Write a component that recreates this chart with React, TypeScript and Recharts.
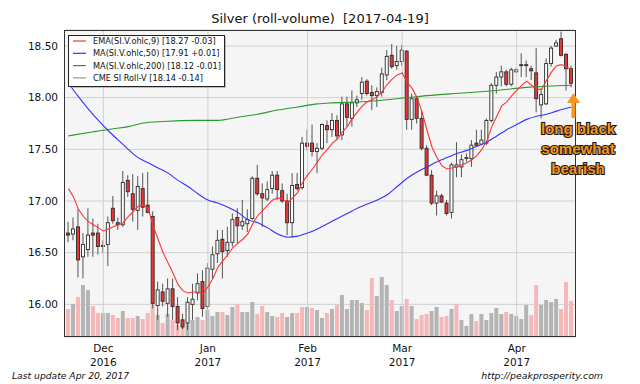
import React from 'react';
import { ComposedChart, Bar, Line, XAxis, YAxis, CartesianGrid, ReferenceLine } from 'recharts';

// ---- data ----
const opens = [
  16.69, 16.68, 16.75, 16.46, 16.53, 16.69, 16.69, 16.57, 16.58, 16.93,
  16.79, 16.77, 17.2, 17.07, 16.91, 17.12, 16.96, 16.85, 15.99, 16.12,
  16.01, 16.15, 15.98, 15.85, 15.82, 16.0, 16.11, 16.22, 15.98, 16.34,
  16.49, 16.63, 16.52, 16.6, 16.84, 16.76, 16.78, 16.83, 17.22, 17.07,
  17.02, 17.12, 17.25, 17.1, 17.0, 16.79, 17.16, 17.13, 17.56, 17.56,
  17.48, 17.51, 17.73, 17.69, 17.78, 17.64, 17.94, 17.8, 17.95, 18.04,
  18.16, 18.05, 18.02, 18.05, 18.22, 18.41, 18.31, 18.35, 18.45, 17.79,
  17.99, 17.8, 17.51, 17.25, 16.98, 17.05, 16.98, 16.89, 17.33, 17.33,
  17.42, 17.41, 17.56, 17.55, 17.56, 17.78, 18.12, 18.2, 18.25, 18.13,
  18.25, 18.31, 18.31, 18.28, 18.24, 17.93, 17.94, 18.33, 18.5, 18.57,
  18.42, 18.28,
];
const highs = [
  16.8, 16.84, 16.92, 16.69, 16.93, 16.83, 16.78, 16.62, 16.85, 17.05,
  16.84, 17.29, 17.25, 17.26, 17.24, 17.27, 17.28, 16.9, 16.22, 16.2,
  16.25, 16.25, 16.07, 15.91, 16.07, 16.2, 16.3, 16.33, 16.4, 16.56,
  16.72, 16.72, 16.75, 16.88, 16.93, 17.01, 16.92, 17.24, 17.35, 17.17,
  17.19, 17.29, 17.29, 17.17, 17.07, 17.27, 17.27, 17.62, 17.69, 17.74,
  17.56, 17.75, 17.78, 17.85, 17.83, 18.01, 18.01, 18.07, 18.02, 18.2,
  18.18, 18.12, 18.1, 18.29, 18.46, 18.52, 18.5, 18.51, 18.46, 18.04,
  18.01, 17.88, 17.54, 17.3, 17.1, 17.07, 17.01, 17.37, 17.57, 17.45,
  17.46, 17.59, 17.69, 17.69, 17.8, 18.14, 18.25, 18.31, 18.27, 18.29,
  18.29, 18.43, 18.36, 18.31, 18.48, 18.09, 18.38, 18.5, 18.56, 18.64,
  18.43, 18.31,
];
const lows = [
  16.6, 16.62, 16.26, 16.25, 16.46, 16.46, 16.48, 16.5, 16.37, 16.78,
  16.72, 16.75, 17.04, 16.8, 16.72, 16.85, 16.88, 15.96, 15.85, 15.98,
  15.88, 15.85, 15.75, 15.76, 15.75, 15.85, 16.04, 15.88, 15.95, 16.25,
  16.4, 16.25, 16.46, 16.56, 16.59, 16.72, 16.7, 16.82, 17.05, 16.75,
  17.0, 17.07, 17.01, 16.98, 16.67, 16.65, 17.1, 17.11, 17.49, 17.43,
  17.27, 17.49, 17.56, 17.62, 17.6, 17.59, 17.72, 17.72, 17.91, 17.98,
  18.02, 17.88, 17.91, 18.01, 18.17, 18.28, 18.27, 18.31, 17.69, 17.69,
  17.75, 17.49, 17.24, 16.96, 16.86, 16.98, 16.86, 16.83, 17.23, 17.23,
  17.38, 17.33, 17.53, 17.54, 17.54, 17.76, 18.04, 18.11, 18.11, 18.11,
  18.24, 18.2, 18.2, 18.17, 17.86, 17.8, 17.93, 18.3, 18.49, 18.4,
  18.07, 18.1,
];
const closes = [
  16.67, 16.73, 16.43, 16.58, 16.67, 16.67, 16.56, 16.56, 16.79, 16.81,
  16.77, 17.18, 17.09, 16.92, 17.14, 16.94, 16.89, 16.01, 16.14, 16.03,
  16.15, 15.98, 15.82, 15.78, 16.02, 16.05, 16.2, 15.96, 16.35, 16.48,
  16.62, 16.51, 16.6, 16.82, 16.76, 16.8, 16.82, 17.22, 17.07, 17.03,
  17.11, 17.25, 17.11, 17.0, 16.79, 17.15, 17.12, 17.56, 17.53, 17.48,
  17.51, 17.74, 17.69, 17.78, 17.63, 17.94, 17.81, 17.95, 17.98, 18.15,
  18.04, 18.02, 18.06, 18.23, 18.4, 18.3, 18.35, 18.46, 17.79, 17.99,
  17.8, 17.51, 17.25, 16.98, 17.05, 16.99, 16.88, 17.35, 17.35, 17.4,
  17.42, 17.54, 17.54, 17.59, 17.78, 18.12, 18.2, 18.25, 18.13, 18.27,
  18.27, 18.32, 18.32, 18.26, 17.99, 18.03, 18.33, 18.48, 18.53, 18.41,
  18.28, 18.14,
];
// volume, thousands of contracts
const volumes = [
  56, 66, 80, 104, 94, 62, 48, 48, 48, 44,
  38, 52, 38, 38, 42, 36, 48, 68, 44, 28,
  46, 34, 24, 18, 28, 34, 40, 34, 54, 42,
  50, 50, 44, 60, 66, 50, 50, 70, 46, 62,
  50, 42, 40, 48, 40, 48, 48, 60, 60, 58,
  54, 38, 48, 56, 64, 84, 56, 74, 74, 68,
  54, 118, 82, 120, 104, 74, 52, 62, 76, 62,
  36, 44, 46, 52, 60, 40, 42, 56, 66, 34,
  22, 46, 32, 46, 34, 48, 58, 46, 50, 46,
  42, 36, 64, 44, 104, 64, 74, 70, 76, 56,
  110, 72,
];
// 1 = up-volume bar (grey), 0 = down-volume bar (pink)
const volumeUp = [
  0, 1, 0, 1, 1, 0, 0, 1, 1, 0,
  0, 1, 0, 0, 1, 0, 0, 0, 1, 0,
  1, 0, 0, 0, 1, 1, 1, 0, 1, 1,
  1, 0, 1, 1, 0, 1, 1, 1, 0, 0,
  1, 1, 0, 0, 1, 1, 0, 0, 1, 0,
  1, 1, 0, 1, 0, 1, 1, 1, 1, 1,
  0, 0, 1, 1, 1, 0, 1, 1, 0, 1,
  0, 0, 0, 1, 1, 0, 0, 1, 0, 1,
  1, 1, 0, 1, 1, 1, 1, 1, 0, 1,
  1, 1, 1, 0, 0, 1, 1, 1, 1, 0,
  0, 0,
];
const ema9 = [
  17.12, 17.04, 16.92, 16.85, 16.8, 16.77, 16.74, 16.71, 16.73, 16.75,
  16.77, 16.79, 16.85, 16.9, 16.95, 16.96, 16.93, 16.76, 16.63, 16.5,
  16.4, 16.3, 16.19, 16.13, 16.11, 16.12, 16.12, 16.1, 16.17, 16.25,
  16.36, 16.42, 16.48, 16.55, 16.59, 16.63, 16.68, 16.78, 16.86, 16.91,
  16.96, 17.01, 17.03, 17.02, 16.98, 17.03, 17.08, 17.18, 17.25, 17.31,
  17.38, 17.45, 17.5, 17.56, 17.6, 17.67, 17.72, 17.8, 17.86, 17.92,
  17.96, 17.98, 18.01, 18.06, 18.13, 18.18, 18.22, 18.24, 18.15, 18.09,
  18.0, 17.86, 17.68, 17.52, 17.42, 17.34, 17.31, 17.32, 17.33, 17.35,
  17.37, 17.4, 17.44, 17.5, 17.58, 17.72, 17.82, 17.92, 17.96, 18.02,
  18.07, 18.12, 18.16, 18.12, 18.08, 18.08, 18.17, 18.25, 18.31, 18.32,
  18.3, 18.27,
];
// [bar index, value] readings of the moving averages
const ma50Points: [number, number][] = [
  [0, 18.14], [2, 18.01], [4, 17.89], [6, 17.78], [8, 17.68], [10, 17.59], [12, 17.5],
  [14, 17.42], [16, 17.37], [18, 17.32], [20, 17.27], [22, 17.2], [24, 17.14], [26, 17.07],
  [28, 17.01], [30, 16.98], [32, 16.94], [34, 16.89], [36, 16.82], [38, 16.79], [40, 16.74],
  [42, 16.68], [44, 16.65], [46, 16.66], [48, 16.69], [50, 16.73], [52, 16.78], [54, 16.83],
  [56, 16.88], [58, 16.93], [60, 16.97], [62, 17.01], [64, 17.06], [66, 17.14], [68, 17.22],
  [70, 17.28], [72, 17.33], [74, 17.38], [76, 17.42], [78, 17.46], [80, 17.49], [82, 17.53],
  [84, 17.57], [86, 17.63], [88, 17.69], [90, 17.74], [92, 17.79], [94, 17.82], [96, 17.84],
  [98, 17.87], [101, 17.91],
];
const ma200Points: [number, number][] = [
  [0, 17.63], [5, 17.67], [9, 17.7], [12, 17.72], [15, 17.755], [19, 17.77], [26, 17.78],
  [30, 17.78], [34, 17.81], [38, 17.84], [42, 17.88], [46, 17.91], [50, 17.94], [53, 17.95],
  [59, 17.96], [66, 17.99], [72, 18.02], [79, 18.045], [86, 18.07], [92, 18.1], [101, 18.12],
];
const monthTickIdx = [7, 28, 48, 67, 90];
const monthTickLabels = ['Dec', 'Jan', 'Feb', 'Mar', 'Apr'];
const monthTickYears = ['2016', '2017', '2017', '2017', '2017'];
const priceTicks = [16, 16.5, 17, 17.5, 18, 18.5];
const legendLabels = [
  'EMA(SI.V.ohlc,9) [18.27 -0.03]',
  'MA(SI.V.ohlc,50) [17.91 +0.01]',
  'MA(SI.V.ohlc,200) [18.12 -0.01]',
  'CME SI Roll-V [18.14 -0.14]',
];
const legendColors = ['#ff3333', '#3333ff', '#2a9a2a', '#999999'];
const annotationLines = ['long black', 'somewhat', 'bearish'];

// ---- table for the chart ----
type Row = {
  i: number; o: number; h: number; l: number; c: number;
  vol: number; up: number; ema: number; ma50?: number; ma200?: number;
};
const rows: Row[] = opens.map((o, i) => ({
  i, o, h: highs[i], l: lows[i], c: closes[i], vol: volumes[i], up: volumeUp[i], ema: ema9[i],
}));
ma50Points.forEach(([i, v]) => { rows[i].ma50 = v; });
ma200Points.forEach(([i, v]) => { rows[i].ma200 = v; });

const FONT = "'DejaVu Sans', 'Liberation Sans', sans-serif";

const Candle = (props: any) => {
  const { x, y, width, height, payload } = props;
  if (!payload || height == null || isNaN(y)) return <g />;
  const top = Math.min(y, y + height);
  const hh = Math.abs(height);
  const span = payload.h - payload.l;
  const yOf = (v: number) => top + ((payload.h - v) / span) * hh;
  const cx = x + width / 2;
  const yo = yOf(payload.o);
  const yc = yOf(payload.c);
  const bTop = Math.min(yo, yc);
  const bH = Math.max(Math.abs(yo - yc), 0.8);
  const down = payload.c < payload.o;
  return (
    <g>
      <line x1={cx} x2={cx} y1={top} y2={top + hh} stroke="#555" strokeWidth={1} />
      <rect x={x + 0.5} y={bTop} width={width - 1} height={bH}
        fill={down ? '#ee3535' : '#ffffff'} stroke="#2a2a2a" strokeWidth={0.9} />
    </g>
  );
};

const VolBar = (props: any) => {
  const { x, y, width, height, payload } = props;
  if (!payload || height == null || isNaN(y)) return <g />;
  return <rect x={x} y={Math.min(y, y + height)} width={width} height={Math.abs(height)}
    fill={payload.up ? '#b4b4b4' : '#f5b7b7'} />;
};

const MonthTick = (props: any) => {
  const { x, y, payload } = props;
  const k = monthTickIdx.indexOf(payload.value);
  if (k < 0) return <g />;
  return (
    <g>
      <text x={x} y={y + 15} textAnchor="middle" fontSize={10.5} fontFamily={FONT} fill="#111">{monthTickLabels[k]}</text>
      <text x={x} y={y + 29} textAnchor="middle" fontSize={10.5} fontFamily={FONT} fill="#111">{monthTickYears[k]}</text>
    </g>
  );
};

export default function App() {
  return (
    <div style={{ position: 'absolute', left: 0, top: 0, width: 640, height: 384, background: '#fff' }}>
      <ComposedChart width={640} height={384} data={rows}
        margin={{ top: 30, right: 64, bottom: 7, left: 4 }}>
        <CartesianGrid vertical={false} stroke="#cfcfcf" fill="#f5f5f5" />
        <XAxis dataKey="i" type="category" interval={0} tick={(p: any) => <MonthTick {...p} />}
          tickLine={false} axisLine={false} height={40} tickSize={0} tickMargin={0}
          padding={{ left: 2, right: 2 }} />
        <XAxis xAxisId="vol" dataKey="i" type="category" hide padding={{ left: 2, right: 2 }} />
        <YAxis type="number" domain={[15.684, 18.655]} ticks={priceTicks} allowDataOverflow
          tickFormatter={(v: number) => v.toFixed(2)} width={60} axisLine={false} tickLine={false}
          tickSize={4} tickMargin={2}
          tick={{ fontSize: 10.5, fontFamily: FONT, fill: '#111' }} />
        <YAxis yAxisId="vol" hide domain={[0, 614]} />
        {monthTickIdx.map((m) => (
          <ReferenceLine key={m} x={m} stroke="#cfcfcf" strokeWidth={1} />
        ))}
        <Bar xAxisId="vol" yAxisId="vol" dataKey="vol" barSize={4} shape={(p: any) => <VolBar {...p} />}
          isAnimationActive={false} />
        <Bar dataKey={(d: Row) => [d.l, d.h]} barSize={4} shape={(p: any) => <Candle {...p} />}
          isAnimationActive={false} />
        <Line dataKey="ma200" stroke="#2a9a2a" strokeWidth={1.1} dot={false} connectNulls type="monotone"
          isAnimationActive={false} />
        <Line dataKey="ma50" stroke="#3333ff" strokeWidth={1.1} dot={false} connectNulls type="monotone"
          isAnimationActive={false} />
        <Line dataKey="ema" stroke="#ff3333" strokeWidth={1.1} dot={false} type="linear"
          isAnimationActive={false} />
      </ComposedChart>
      <svg width={640} height={384} style={{ position: 'absolute', left: 0, top: 0, pointerEvents: 'none' }}>
        <text x={320} y={23} textAnchor="middle" fontSize={13} fontFamily={FONT} fill="#111">
          {'Silver (roll-volume)\u00a0\u00a0[2017-04-19]'}
        </text>
        <rect x={64.5} y={30.5} width={511} height={306} fill="none" stroke="#333" strokeWidth={1} />
        <rect x={70} y={37} width={156} height={51} fill="#9a9a9a" opacity={0.6} />
        <rect x={68.5} y={35.5} width={156} height={51} fill="#ffffff" stroke="#222" strokeWidth={1} />
        {legendLabels.map((t, k) => (
          <g key={t}>
            <line x1={73} x2={86} y1={41 + k * 12.3} y2={41 + k * 12.3} stroke={legendColors[k]} strokeWidth={1.2} />
            <text x={93} y={44 + k * 12.3} fontSize={8.2} fontFamily={FONT} fill="#111">{t}</text>
          </g>
        ))}
        <polygon points="573.5,93 567,103 580,103" fill="#f5961e" />
        <rect x={571.5} y={102} width={4} height={16} fill="#f5961e" />
        {annotationLines.map((t, k) => (
          <text key={t} x={578} y={134 + k * 20} textAnchor="middle" fontSize={15} fontWeight="bold"
            fontFamily="'Liberation Sans', Arial, sans-serif" fill="#f7941d" stroke="#1a1a1a"
            strokeWidth={2.2} style={{ paintOrder: 'stroke' }}>{t}</text>
        ))}
        <text x={12} y={379} fontSize={9.2} fontStyle="italic" fontFamily={FONT} fill="#111">Last update Apr 20, 2017</text>
        <text x={603} y={379} textAnchor="end" fontSize={9.4} fontStyle="italic" fontFamily={FONT} fill="#111">http://peakprosperity.com</text>
      </svg>
    </div>
  );
}
